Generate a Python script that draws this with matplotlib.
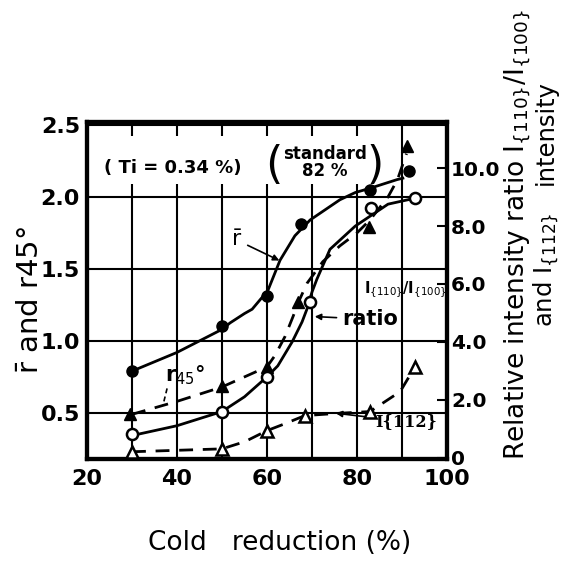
import matplotlib
matplotlib.use("Agg")
import matplotlib.pyplot as plt
from matplotlib.patches import Rectangle

# ---- data ----
# r-bar (filled circles, left axis)
rbar_x = [30, 50, 60, 67.5, 83, 91.5]
rbar_y = [0.79, 1.10, 1.31, 1.81, 2.05, 2.18]
rbar_curve_x = [30, 40, 50, 51.8, 55, 56.7, 60.2, 62.9, 66.2, 69.6, 76.2, 79.6, 82.9, 88.9, 90.2]
rbar_curve_y = [0.79, 0.92, 1.08, 1.125, 1.19, 1.22, 1.35, 1.56, 1.73, 1.84, 1.98, 2.03, 2.06, 2.12, 2.13]

# r45 (filled triangles, left axis)
r45_x = [29.6, 50, 60, 67, 82.6, 91.2]
r45_y = [0.49, 0.69, 0.82, 1.27, 1.79, 2.35]
r45_curve_x = [30, 40, 50, 55, 60, 61.8, 64, 65.8, 67, 68.9, 72.4, 76.2, 80, 82.9, 86.9, 89, 91]
r45_curve_y = [0.49, 0.58, 0.68, 0.75, 0.82, 0.90, 1.03, 1.17, 1.27, 1.40, 1.55, 1.66, 1.75, 1.84, 2.0, 2.12, 2.3]

# I{110}/I{100} ratio (open circles, right axis)
ratio_x = [30, 50, 60, 69.6, 83.1, 93]
ratio_y = [0.83, 1.59, 2.79, 5.38, 8.62, 8.97]
ratio_curve_x = [30, 40, 50, 55, 60, 62.4, 65.6, 67.8, 68.9, 70, 71.1, 74, 79.6, 86.9, 93]
ratio_curve_y = [0.76, 1.1, 1.59, 2.1, 2.79, 3.17, 4.0, 4.69, 5.14, 5.72, 6.17, 7.2, 8.0, 8.76, 8.97]

# I{112} intensity (open triangles, right axis)
i112_x = [30, 50, 60, 68.4, 82.9, 92.9]
i112_y = [0.2, 0.3, 0.93, 1.45, 1.59, 3.14]
i112_curve_x = [30, 50, 55.1, 60, 64, 68.4, 75, 82.9, 89.6, 92.9]
i112_curve_y = [0.2, 0.3, 0.55, 0.93, 1.17, 1.45, 1.52, 1.59, 2.28, 3.14]

left_ticks = [0.5, 1.0, 1.5, 2.0, 2.5]
right_ticks = [0, 2, 4, 6, 8, 10]
right_labels = ["0", "2.0", "4.0", "6.0", "8.0", "10.0"]
x_ticks = [20, 40, 60, 80, 100]

plt.rcParams["font.family"] = "DejaVu Sans"

fig = plt.figure(figsize=(5.83, 5.62), dpi=100)
ax = fig.add_axes([0.1492, 0.1833, 0.6175, 0.5996])
ax2 = ax.twinx()

ax.set_xlim(20, 100)
ax.set_ylim(0.18, 2.52)
ax2.set_ylim(-0.05, 11.6)

# grid (gridlines broken behind the top notes)
ax.set_axisbelow(True)
ax.set_xticks(x_ticks)
ax.set_xticks([30, 50, 70, 90], minor=True)
ax.set_yticks(left_ticks)
ax.grid(True, which="both", axis="x", color="black", lw=1.5)
ax.grid(True, which="major", axis="y", color="black", lw=1.5)
ax.add_patch(Rectangle((20.3, 2.09), 65.5, 0.33, fc="white", ec="none", zorder=1))

ax.tick_params(axis="both", which="both", length=0, labelsize=16, pad=5)
ax.set_xticklabels([str(v) for v in x_ticks], fontweight="bold")
ax.set_yticklabels(["%.1f" % v for v in left_ticks], fontweight="bold")
ax.tick_params(axis="x", pad=7)

ax2.set_yticks(right_ticks)
ax2.set_yticklabels(right_labels, fontweight="bold")
ax2.tick_params(axis="y", direction="in", length=7, width=1.5, labelsize=14.5, pad=3)

for s in list(ax.spines.values()) + list(ax2.spines.values()):
    s.set_linewidth(3)

dash = (0, (5, 3.5))

# curves
ax.plot(rbar_curve_x, rbar_curve_y, color="black", lw=2, zorder=3)
ax.plot(r45_curve_x, r45_curve_y, color="black", lw=2, ls=dash, zorder=3)
ax2.plot(ratio_curve_x, ratio_curve_y, color="black", lw=2, zorder=3)
ax2.plot(i112_curve_x, i112_curve_y, color="black", lw=2, ls=dash, zorder=3)

# markers
ax.plot(rbar_x, rbar_y, "o", ms=8, color="black", zorder=4, clip_on=False)
ax.plot(r45_x, r45_y, "^", ms=8, color="black", zorder=4, clip_on=False)
ax2.plot(ratio_x, ratio_y, "o", ms=8, mfc="white", mec="black", mew=1.8, zorder=4, clip_on=False)
ax2.plot(i112_x, i112_y, "^", ms=8, mfc="white", mec="black", mew=1.8, zorder=4, clip_on=False)

# annotations
arrow = dict(arrowstyle="-|>", color="black", lw=1.2, mutation_scale=9)
ax.annotate(r"$\bar{\mathrm{r}}$", xy=(63.3, 1.55), xytext=(53.3, 1.70),
            fontsize=16, ha="center", va="center", arrowprops=arrow, zorder=5)
ax.text(41.8, 0.76, r"r$_{45}$°", fontsize=15, fontweight="bold", ha="center", va="center", zorder=5)
ax.plot([37.8, 36.9], [0.67, 0.555], color="black", lw=1.2, ls=(0, (3, 2)), zorder=5)
ax.text(90.7, 1.36, r"I$_{\{110\}}$/I$_{\{100\}}$", fontsize=10.5, fontweight="bold",
        ha="center", va="center", zorder=5)
ax.annotate("ratio", xy=(70.0, 1.17), xytext=(82.9, 1.15), fontsize=15, fontweight="bold",
            ha="center", va="center", arrowprops=arrow, zorder=5)
ax.annotate("I{112}", xy=(74.7, 0.50), xytext=(91.0, 0.44), family="DejaVu Serif", fontsize=11.5,
            fontweight="bold", ha="center", va="center", arrowprops=arrow, zorder=5)
ax.text(39.1, 2.20, "( Ti = 0.34 %)", fontsize=13, fontweight="bold", ha="center", va="center", zorder=5)
ax.text(72.9, 2.24, "standard\n82 %", fontsize=12, fontweight="bold", ha="center", va="center",
        linespacing=0.9, zorder=5)
ax.text(61.6, 2.22, "(", fontsize=32, ha="center", va="center", zorder=5)
ax.text(84.0, 2.22, ")", fontsize=32, ha="center", va="center", zorder=5)

# axis labels
fig.text(0.480, 0.034, "Cold   reduction (%)", fontsize=19, ha="center", va="center")
fig.text(0.051, 0.466, r"$\bar{\mathrm{r}}$ and r45°", fontsize=21, rotation=90, ha="center", va="center")
fig.text(0.887, 0.582, r"Relative intensity ratio I$_{\{110\}}$/I$_{\{100\}}$", fontsize=19,
         rotation=90, ha="center", va="center")
fig.text(0.936, 0.52, r"and I$_{\{112\}}$", fontsize=17.5, rotation=90, ha="center", va="center")
fig.text(0.936, 0.765, "intensity", fontsize=17.5, rotation=90, ha="center", va="center")

fig.savefig("out.png", dpi=100)
